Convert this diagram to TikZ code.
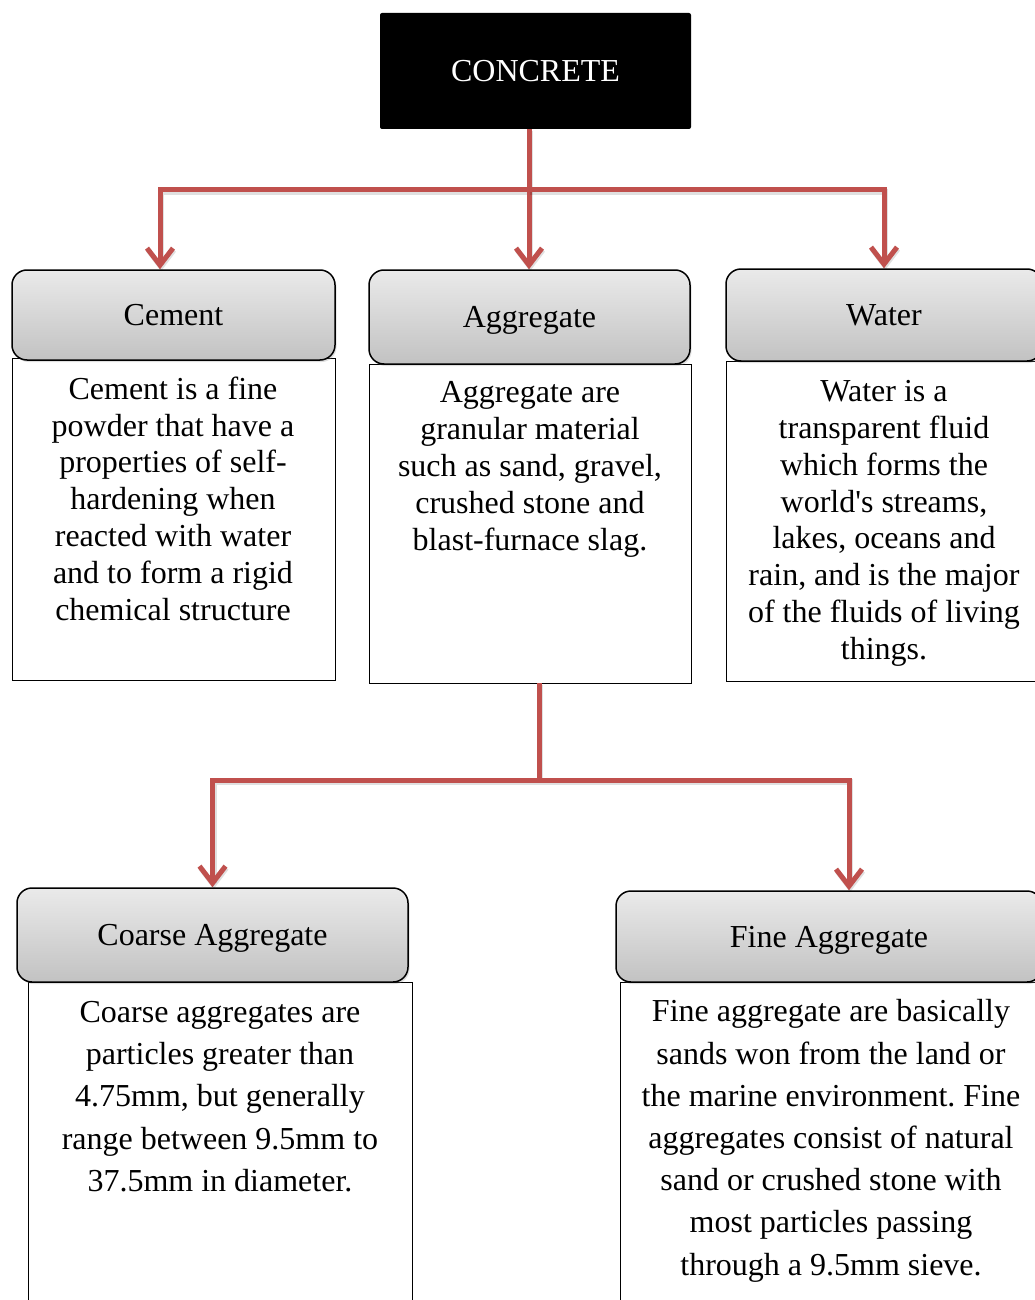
\documentclass[tikz,border=0pt]{standalone}
\usepackage{fontspec}
\setmainfont{Liberation Serif}
\usetikzlibrary{arrows.meta,shadows}
\definecolor{linkred}{HTML}{C0504D}
\definecolor{hdtop}{HTML}{EAEAEA}
\definecolor{hdbot}{HTML}{C2C2C2}
\tikzset{
  hdr/.style={rectangle, rounded corners=15pt, draw=black, line width=1.5pt,
    top color=hdtop, bottom color=hdbot, inner sep=0pt,
    text height=21pt, text depth=0pt, font=\fontsize{32}{37}\selectfont,
    drop shadow={shadow xshift=1.5pt, shadow yshift=-2pt, opacity=.25}},
  bodybox/.style={rectangle, draw=black, line width=0.8pt, fill=white, inner sep=0pt},
  bodytxt/.style={anchor=north, inner sep=0pt, align=center, font=\frenchspacing\fontsize{32}{36.8}\selectfont},
  bodytxtb/.style={anchor=north, inner sep=0pt, align=center, font=\frenchspacing\fontsize{32}{42.2}\selectfont},
  conn/.style={draw=linkred, line width=5pt, line join=miter,
    preaction={draw=black, opacity=.12, line width=6pt, transform canvas={shift={(1pt,-2pt)}}}},
  arr/.style={-{Straight Barb[length=17pt,width=26pt,line width=5pt]}},
}
\begin{document}
\begin{tikzpicture}[x=1pt,y=-1pt]
\useasboundingbox (0,0) rectangle (1035,1300);
\fill[white] (0,0) rectangle (1035,1300);

% top node
\node[rectangle, rounded corners=2pt, fill=black, text=white, minimum width=311pt, minimum height=116pt, inner sep=0pt,
  text height=21pt, text depth=0pt, font=\fontsize{32}{37}\selectfont] (conc) at (535.5,71) {CONCRETE};

% body boxes
\node[bodybox, minimum width=323pt, minimum height=322pt] (cemB) at (173.5,519) {};
\node[bodybox, minimum width=322pt, minimum height=319pt] (aggB) at (530,523.5) {};
\node[bodybox, minimum width=316pt, minimum height=320pt] (watB) at (884,521) {};
\node[bodybox, minimum width=384pt, minimum height=328pt] (coaB) at (220,1146) {};
\node[bodybox, minimum width=422pt, minimum height=328pt] (finB) at (831,1146) {};

% headers
\node[hdr, minimum width=323pt, minimum height=90pt] (cemH) at (173.5,315) {Cement};
\node[hdr, minimum width=321pt, minimum height=94pt] (aggH) at (529.5,317) {Aggregate};
\node[hdr, minimum width=316pt, minimum height=92pt] (watH) at (884,315) {Water};
\node[hdr, minimum width=391pt, minimum height=94pt] (coaH) at (212.5,935) {Coarse Aggregate};
\node[hdr, minimum width=426pt, minimum height=91pt] (finH) at (829,936.5) {Fine Aggregate};

% body texts
\node[bodytxt] (cemT) at (173,376.5) {Cement is a fine\\powder that have a\\properties of self-\\hardening when\\reacted with water\\and to form a rigid\\chemical structure};
\node[bodytxt] (aggT) at (530,381.5) {Aggregate are\\granular material\\such as sand, gravel,\\crushed stone and\\blast-furnace slag.};
\node[bodytxt] (watT) at (884,380.3) {Water is a\\transparent fluid\\which forms the\\world\textquotesingle s streams,\\lakes, oceans and\\rain, and is the major\\of the fluids of living\\things.};
\node[bodytxtb] (coaT) at (220,1001) {Coarse aggregates are\\particles greater than\\4.75mm, but generally\\range between 9.5mm to\\37.5mm in diameter.};
\node[bodytxtb] (finT) at (831,999.5) {Fine aggregate are basically\\sands won from the land or\\the marine environment. Fine\\aggregates consist of natural\\sand or crushed stone with\\most particles passing\\through a 9.5mm sieve.};

% connectors
\coordinate (j1) at (529,190);
\coordinate (j2) at (539,780);
\draw[conn] (conc.south -| j1) -- (j1);
\draw[conn,arr] (j1) -| ([xshift=-13.5pt]cemH.north);
\draw[conn,arr] (j1) -- (aggH.north -| j1);
\draw[conn,arr] (j1) -| (watH.north);
\draw[conn] (aggB.south -| j2) -- (j2);
\draw[conn,arr] (j2) -| (coaH.north);
\draw[conn,arr] (j2) -| ([xshift=20pt]finH.north);
\end{tikzpicture}
\end{document}
